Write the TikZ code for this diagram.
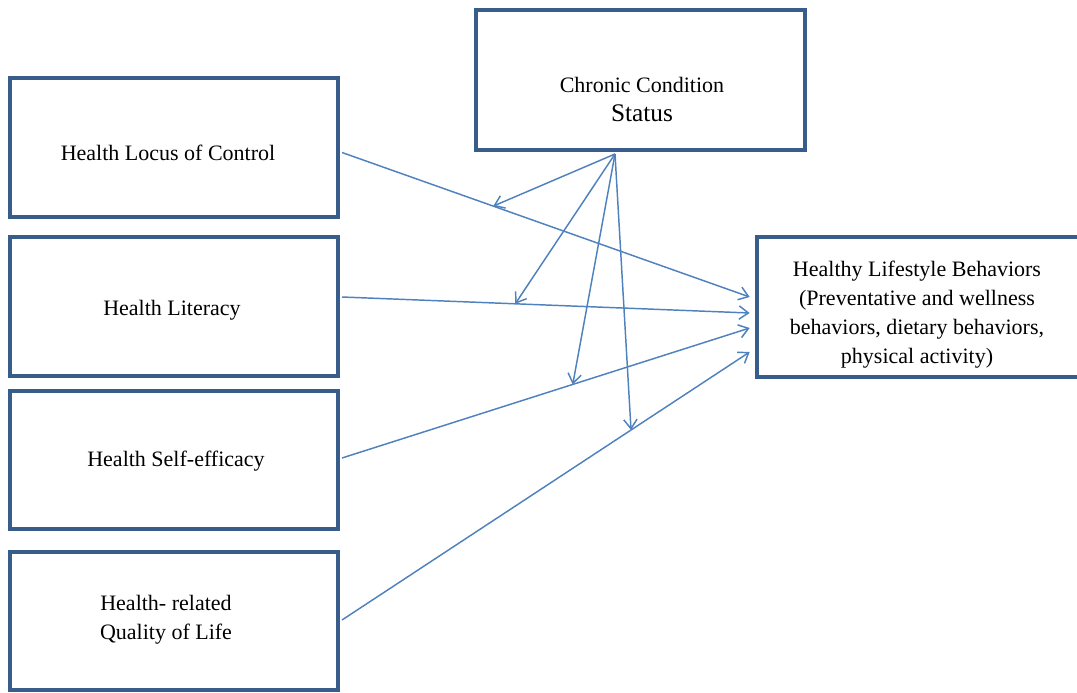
\documentclass[tikz,border=0pt]{standalone}
\usepackage{fontspec}
\setmainfont{Liberation Serif}
\usetikzlibrary{arrows.meta,calc}
\definecolor{boxblue}{HTML}{385D8A}
\definecolor{lineblue}{HTML}{4F81BD}
\tikzset{
  factor/.style={rectangle, draw=boxblue, line width=3pt, minimum width=246pt, minimum height=104pt, align=center, font=\fontsize{16.5}{21.75}\selectfont},
  moderator/.style={factor, minimum width=247pt, minimum height=105pt},
  outcome/.style={factor, minimum width=248pt, minimum height=105pt},
  plain/.style={align=center, font=\fontsize{16.5}{21.75}\selectfont},
  effect/.style={lineblue, line width=1.1pt, -{Straight Barb[length=7pt,width=10pt]}}
}
\begin{document}
\begin{tikzpicture}[x=0.75pt, y=-0.75pt]
  \useasboundingbox (0,0) rectangle (1077,692);

  \node[factor] (hlc) at (174,147.5) {};
  \node[plain] (hlctext) at (168,153) {Health Locus of Control};
  \node[factor] (hl) at (174,306.5) {};
  \node[plain] (hltext) at (172,310) {Health Literacy};
  \node[factor] (hse) at (174,460) {};
  \node[plain] (hsetext) at (176,461) {Health Self-efficacy};
  \node[factor] (hrq) at (174,621) {};
  \node[plain] (hrqtext) at (166,620) {Health- related\\Quality of Life};
  \node[moderator] (ccs) at (640.5,80) {};
  \node[plain] (ccstext) at (642,99) {Chronic Condition\\{\fontsize{19}{19}\selectfont Status}};
  \node[outcome] (hlb) at (922,307) {};
  \node[plain] (hlbtext) at (917,315) {Healthy Lifestyle Behaviors\\(Preventative and wellness\\behaviors, dietary behaviors,\\physical activity)};

  % main effects
  \draw[effect] ($(hlc.east)+(2,5)$) -- coordinate[pos=0.371] (m1) ($(hlb.west)+(-5,-10)$);
  \draw[effect] ($(hl.east)+(2,-9.5)$) -- coordinate[pos=0.425] (m2) ($(hlb.west)+(-5,6)$);
  \draw[effect] ($(hse.east)+(2,-2)$) -- coordinate[pos=0.566] (m3) ($(hlb.west)+(-5,21)$);
  \draw[effect] ($(hrq.east)+(2,-1)$) -- coordinate[pos=0.709] (m4) ($(hlb.west)+(-5,45)$);

  % moderation
  \coordinate (src) at ($(ccs.south)+(-25.5,2)$);
  \draw[effect] (src) -- (m1);
  \draw[effect] (src) -- (m2);
  \draw[effect] (src) -- (m3);
  \draw[effect] (src) -- (m4);
\end{tikzpicture}
\end{document}
